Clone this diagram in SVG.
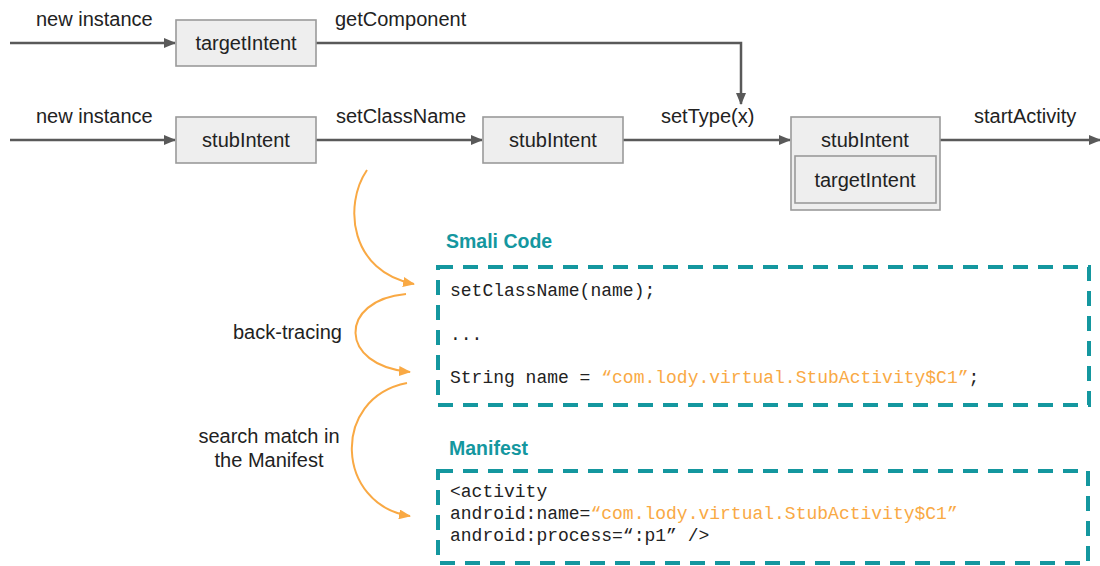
<svg xmlns="http://www.w3.org/2000/svg" width="1100" height="566" viewBox="0 0 1100 566">
  <style>
    .lbl { font-family: "Liberation Sans", Arial, sans-serif; font-size: 20px; fill: #222; }
    .mid { text-anchor: middle; }
    .box { fill: #eeeeee; stroke: #9a9a9a; stroke-width: 1.6; }
    .flow { fill: none; stroke: #595959; stroke-width: 2.5; marker-end: url(#arr); }
    .trace { fill: none; stroke: #f9a944; stroke-width: 2; marker-end: url(#arrO); }
    .frame { fill: none; stroke: #14979f; stroke-width: 4; stroke-dasharray: 15 10; }
    .title { font-family: "Liberation Sans", Arial, sans-serif; font-size: 19.5px; font-weight: bold; fill: #14979f; }
    .code { font-family: "Liberation Mono", "DejaVu Sans Mono", monospace; font-size: 18px; fill: #222; }
    .str { fill: #f9a944; }
  </style>
  <defs>
    <marker id="arr" markerWidth="12" markerHeight="10" refX="11" refY="5" orient="auto" markerUnits="userSpaceOnUse">
      <path d="M0,0 L12,5 L0,10 z" fill="#595959"/>
    </marker>
    <marker id="arrO" markerWidth="12" markerHeight="10" refX="11" refY="5" orient="auto" markerUnits="userSpaceOnUse">
      <path d="M0,0 L12,5 L0,10 z" fill="#f9a944"/>
    </marker>
  </defs>

  <!-- connectors -->
  <g id="connectors">
    <path class="flow" d="M10,43 H175"/>
    <path class="flow" d="M316,43 H741 V104"/>
    <path class="flow" d="M10,140 H175"/>
    <path class="flow" d="M316,140 H482"/>
    <path class="flow" d="M623,140 H790"/>
    <path class="flow" d="M940,140 H1100"/>
    <path class="trace" d="M367,170 C343,205 350,272 414,284"/>
    <path class="trace" d="M406,294 C338,300 338,366 410,372"/>
    <path class="trace" d="M407,383 C330,398 336,505 410,516"/>
  </g>

  <!-- edge labels -->
  <g id="labels">
    <text class="lbl" x="36" y="26">new instance</text>
    <text class="lbl" x="335" y="26">getComponent</text>
    <text class="lbl" x="36" y="123">new instance</text>
    <text class="lbl" x="336" y="123">setClassName</text>
    <text class="lbl" x="661" y="123">setType(x)</text>
    <text class="lbl" x="974" y="123">startActivity</text>
    <text class="lbl" x="233" y="339">back-tracing</text>
    <text class="lbl mid" x="269" y="443">search match in</text>
    <text class="lbl mid" x="269" y="467">the Manifest</text>
  </g>

  <g id="targetIntent">
    <rect class="box" x="176" y="20" width="140" height="46"/>
    <text class="lbl mid" x="246" y="50">targetIntent</text>
  </g>
  <g id="stubIntent1">
    <rect class="box" x="176" y="117" width="140" height="46"/>
    <text class="lbl mid" x="246" y="147">stubIntent</text>
  </g>
  <g id="stubIntent2">
    <rect class="box" x="483" y="117" width="140" height="46"/>
    <text class="lbl mid" x="553" y="147">stubIntent</text>
  </g>
  <g id="stubIntent3">
    <rect class="box" x="791" y="117" width="149" height="93"/>
    <text class="lbl mid" x="865" y="147">stubIntent</text>
    <rect class="box" x="795" y="156" width="141" height="47"/>
    <text class="lbl mid" x="865" y="187">targetIntent</text>
  </g>

  <g id="smali">
    <text class="title" x="446" y="248">Smali Code</text>
    <rect class="frame" x="438" y="267" width="651" height="138"/>
    <text class="code" x="450" y="296">setClassName(name);</text>
    <text class="code" x="450" y="340">...</text>
    <text class="code" x="450" y="383">String name = <tspan class="str">“com.lody.virtual.StubActivity$C1”</tspan>;</text>
  </g>

  <g id="manifest">
    <text class="title" x="449" y="455">Manifest</text>
    <rect class="frame" x="438" y="471" width="650" height="92"/>
    <text class="code" x="450" y="497">&lt;activity</text>
    <text class="code" x="450" y="519">android:name=<tspan class="str">“com.lody.virtual.StubActivity$C1”</tspan></text>
    <text class="code" x="450" y="541">android:process=“:p1” /&gt;</text>
  </g>
</svg>
